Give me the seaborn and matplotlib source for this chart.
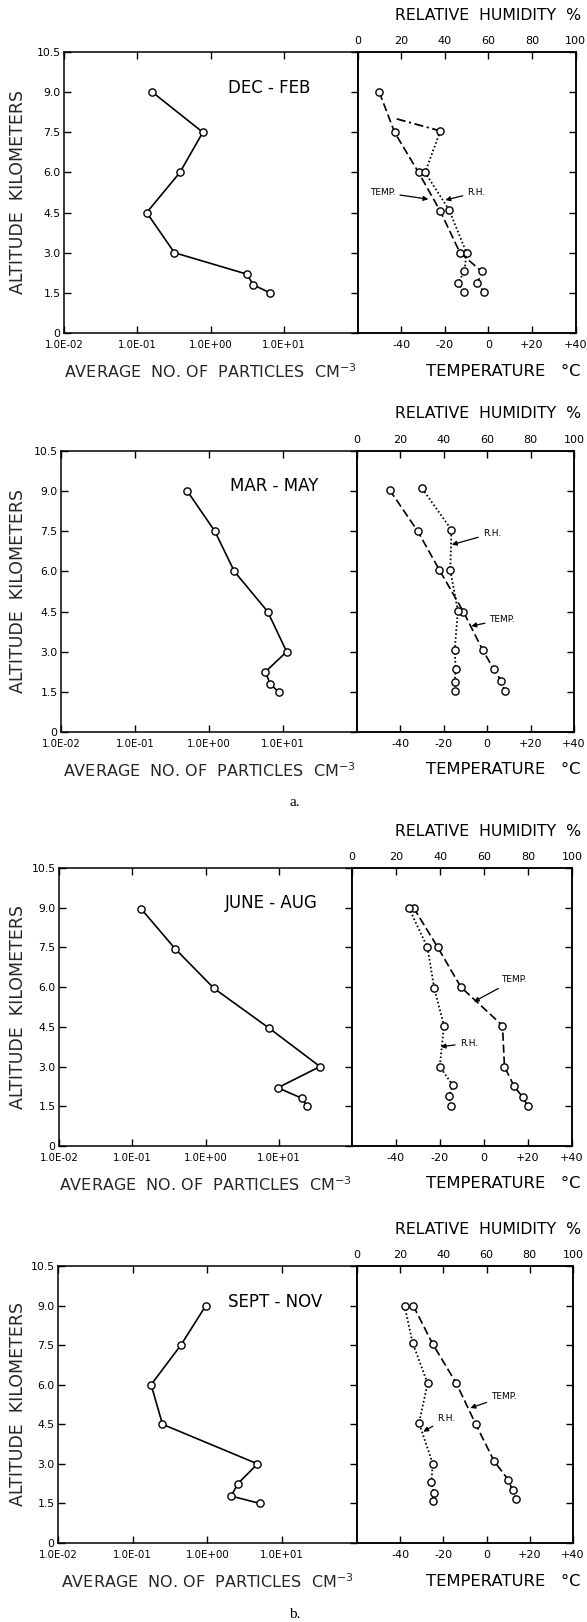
import matplotlib
matplotlib.use("Agg")
import matplotlib.pyplot as plt
from matplotlib.ticker import NullLocator, FixedLocator
import seaborn as sns

# ---------------------------------------------------------------------------
# Seasonal vertical profiles: particle concentration, temperature, humidity
# ---------------------------------------------------------------------------
seasons = ["DEC - FEB", "MAR - MAY", "JUNE - AUG", "SEPT - NOV"]

# particle concentration (cm^-3) and the altitude (km) of each sample
dec_feb_part_alt = [9.0, 7.5, 6.0, 4.5, 3.0, 2.2, 1.8, 1.5]
dec_feb_part = [0.16, 0.78, 0.38, 0.134, 0.32, 3.1, 3.8, 6.4]
mar_may_part_alt = [9.0, 7.5, 6.0, 4.5, 3.0, 2.25, 1.8, 1.5]
mar_may_part = [0.51, 1.2, 2.2, 6.2, 11.2, 5.8, 6.7, 8.7]
jun_aug_part_alt = [8.95, 7.45, 5.95, 4.45, 3.0, 2.2, 1.8, 1.5]
jun_aug_part = [0.133, 0.385, 1.31, 7.4, 36.6, 9.7, 20.8, 24.3]
sep_nov_part_alt = [9.0, 7.5, 6.0, 4.5, 3.0, 2.25, 1.78, 1.5]
sep_nov_part = [0.95, 0.44, 0.176, 0.25, 4.66, 2.55, 2.07, 5.0]

# temperature (deg C)
dec_feb_temp_alt = [9.0, 7.5, 6.0, 4.55, 3.0, 2.3, 1.85, 1.55]
dec_feb_temp = [-50, -43, -32, -22, -13, -3, -5, -2]
mar_may_temp_alt = [9.05, 7.5, 6.05, 4.5, 3.05, 2.35, 1.9, 1.55]
mar_may_temp = [-45, -32, -22, -11, -2, 3, 6.5, 8]
jun_aug_temp_alt = [9.0, 7.5, 6.0, 4.55, 3.0, 2.25, 1.85, 1.5]
jun_aug_temp = [-32, -21, -10.5, 8.4, 9.3, 13.7, 17.6, 20]
sep_nov_temp_alt = [9.0, 7.55, 6.05, 4.5, 3.1, 2.4, 2.0, 1.65]
sep_nov_temp = [-34, -25, -14, -5, 3.5, 10, 12, 13.6]

# relative humidity (%)
dec_feb_rh_alt = [7.55, 6.0, 4.6, 3.0, 2.3, 1.85, 1.55]
dec_feb_rh = [38, 31, 42, 50, 49, 46, 49]
dec_feb_rh_upper_alt = [8.0, 7.55]     # dash-dot extension above the top sample
dec_feb_rh_upper = [18, 38]
mar_may_rh_alt = [9.1, 7.56, 6.04, 4.52, 3.05, 2.35, 1.85, 1.54]
mar_may_rh = [30, 43.5, 43, 46.5, 45, 45.5, 45, 45]
jun_aug_rh_alt = [9.0, 7.5, 5.95, 4.55, 3.0, 2.3, 1.9, 1.5]
jun_aug_rh = [25.8, 34.3, 37.4, 41.8, 39.9, 45.7, 44.2, 44.9]
sep_nov_rh_alt = [9.0, 7.6, 6.05, 4.55, 3.0, 2.3, 1.9, 1.6]
sep_nov_rh = [22, 25.7, 32.7, 28.7, 35.1, 34.4, 35.5, 35.1]

# axis ticks and labels
alt_ticks = [0, 1.5, 3.0, 4.5, 6.0, 7.5, 9.0, 10.5]
alt_labels = ["0", "1.5", "3.0", "4.5", "6.0", "7.5", "9.0", "10.5"]
part_ticks = [1e-2, 1e-1, 1e0, 1e1, 1e2]
part_labels = ["1.0E-02", "1.0E-01", "1.0E+00", "1.0E+01", ""]
temp_ticks = [-40, -20, 0, 20, 40]
temp_labels = ["-40", "-20", "0", "+20", "+40"]
rh_ticks = [0, 20, 40, 60, 80, 100]
rh_labels = ["0", "20", "40", "60", "80", "100"]

# label anchor points (x in RH %, y in km): (text x, text y, arrow x, arrow y)
temp_notes = [(11.5, 5.25, 32.5, 5.0), (67.0, 4.2, 52.7, 3.96),
              (73.6, 6.27, 55.4, 5.45), (68.0, 5.55, 52.5, 5.12)]
rh_notes = [(54.6, 5.25, 40.3, 4.97), (62.2, 7.42, 43.7, 7.0),
            (53.1, 3.88, 40.3, 3.75), (41.4, 4.73, 30.7, 4.22)]

# ---------------------------------------------------------------------------
W, H, DPI = 587, 1622, 100
sns.set_theme(style="ticks", rc={
    "axes.edgecolor": "black",
    "axes.linewidth": 1.1,
    "xtick.color": "black",
    "ytick.color": "black",
    "text.color": "black",
    "mathtext.default": "regular",
})
plt.rcParams["font.family"] = ["DejaVu Sans"]

fig = plt.figure(figsize=(W / DPI, H / DPI), dpi=DPI, facecolor="white")

# panel frames in pixels: top, bottom, left, divider, right
frames = [(52, 333, 64, 357.5, 575.5),
          (451, 732, 61, 357, 574),
          (868, 1146, 59, 352, 572),
          (1266, 1543, 58, 357, 573)]
season_pos = [(0.70, 0.872), (0.72, 0.877), (0.724, 0.874), (0.727, 0.871)]

particles = [(dec_feb_part, dec_feb_part_alt), (mar_may_part, mar_may_part_alt),
             (jun_aug_part, jun_aug_part_alt), (sep_nov_part, sep_nov_part_alt)]
temps = [(dec_feb_temp, dec_feb_temp_alt), (mar_may_temp, mar_may_temp_alt),
         (jun_aug_temp, jun_aug_temp_alt), (sep_nov_temp, sep_nov_temp_alt)]
hums = [(dec_feb_rh, dec_feb_rh_alt), (mar_may_rh, mar_may_rh_alt),
        (jun_aug_rh, jun_aug_rh_alt), (sep_nov_rh, sep_nov_rh_alt)]

marker_kw = dict(marker="o", markersize=5.2, markerfacecolor="white",
                 markeredgecolor="black", markeredgewidth=1.0, color="black")


def box(left, top, right, bottom):
    return [left / W, 1 - bottom / H, (right - left) / W, (bottom - top) / H]


for i, (top, bot, left, mid, right) in enumerate(frames):
    h = bot - top

    # ---- particle concentration (log axis) ----
    axl = fig.add_axes(box(left, top, mid, bot))
    axl.set_xscale("log")
    vals, alts = particles[i]
    sns.lineplot(x=vals, y=alts, sort=False, estimator=None, ax=axl,
                 linewidth=1.2, **marker_kw)
    axl.set_xlim(1e-2, 1e2)
    axl.set_ylim(0, 10.5)
    axl.xaxis.set_major_locator(FixedLocator(part_ticks))
    axl.xaxis.set_minor_locator(NullLocator())
    axl.set_xticklabels(part_labels)
    axl.set_yticks(alt_ticks)
    axl.set_yticklabels(alt_labels)
    axl.tick_params(axis="both", which="major", direction="in", length=5,
                    width=1.0, top=True, bottom=True, left=True, right=True,
                    labeltop=False, labelright=False)
    axl.tick_params(axis="x", labelsize=7.3, pad=5)
    axl.tick_params(axis="y", labelsize=7.8, pad=2.5)
    axl.set_ylabel("ALTITUDE  KILOMETERS", fontsize=12.5)
    axl.yaxis.set_label_coords((27 - left) / (mid - left), 0.5)
    axl.set_xlabel("AVERAGE  NO. OF  PARTICLES  CM$^{-3}$", fontsize=11.5)
    axl.xaxis.set_label_coords(0.5, -29 / h)
    axl.text(season_pos[i][0], season_pos[i][1], seasons[i],
             transform=axl.transAxes, ha="center", va="center", fontsize=12)

    # ---- temperature (bottom) and relative humidity (top) ----
    axr = fig.add_axes(box(mid, top, right, bot))
    tv, ta = temps[i]
    sns.lineplot(x=tv, y=ta, sort=False, estimator=None, ax=axr,
                 linewidth=1.2, linestyle=(0, (5, 2.2)), **marker_kw)
    axr.set_xlim(-60, 40)
    axr.set_ylim(0, 10.5)
    axr.set_xticks(temp_ticks)
    axr.set_xticklabels(temp_labels)
    axr.set_yticks(alt_ticks)
    axr.tick_params(axis="x", direction="in", length=5, width=1.0,
                    bottom=True, top=False, labelsize=8, pad=5)
    axr.tick_params(axis="y", direction="in", length=5, width=1.0,
                    left=False, right=True, labelleft=False, labelright=False)
    axr.set_xlabel("")
    axr.set_ylabel("")

    axh = axr.twiny()
    rv, ra = hums[i]
    if i == 0:
        sns.lineplot(x=dec_feb_rh_upper, y=dec_feb_rh_upper_alt, sort=False,
                     estimator=None, ax=axh, color="black", linewidth=1.3,
                     linestyle=(0, (5, 2, 1.2, 2)))
    sns.lineplot(x=rv, y=ra, sort=False, estimator=None, ax=axh,
                 linewidth=1.3, linestyle=(0, (0.9, 1.3)), **marker_kw)
    axh.set_xlim(0, 100)
    axh.set_ylim(0, 10.5)
    axh.set_xticks(rh_ticks)
    axh.set_xticklabels(rh_labels)
    axh.tick_params(axis="x", direction="in", length=5, width=1.0,
                    top=True, bottom=False, labeltop=True, labelbottom=False,
                    labelsize=8, pad=4)
    axh.set_xlabel("")
    axh.set_ylabel("")

    tx, ty, txa, tya = temp_notes[i]
    axh.annotate("TEMP.", xy=(txa, tya), xytext=(tx, ty), fontsize=6.5,
                 ha="center", va="center",
                 arrowprops=dict(arrowstyle="-|>", color="black", lw=0.9,
                                 mutation_scale=7, shrinkA=1, shrinkB=0))
    rx, ry, rxa, rya = rh_notes[i]
    axh.annotate("R.H.", xy=(rxa, rya), xytext=(rx, ry), fontsize=6.5,
                 ha="center", va="center",
                 arrowprops=dict(arrowstyle="-|>", color="black", lw=0.9,
                                 mutation_scale=7, shrinkA=1, shrinkB=0))

    fig.text(581 / W, 1 - (top - 37) / H, "RELATIVE  HUMIDITY  %",
             ha="right", va="center", fontsize=11.3)
    fig.text(581 / W, 1 - (bot + 38) / H, "TEMPERATURE   °C",
             ha="right", va="center", fontsize=11.8)

# sub-figure captions
fig.text(295 / W, 1 - 802 / H, "a.", ha="center", va="center",
         fontsize=11, family=["Liberation Serif", "DejaVu Serif"])
fig.text(295 / W, 1 - 1614 / H, "b.", ha="center", va="center",
         fontsize=11, family=["Liberation Serif", "DejaVu Serif"])

fig.savefig("out.png", dpi=DPI, facecolor="white")
